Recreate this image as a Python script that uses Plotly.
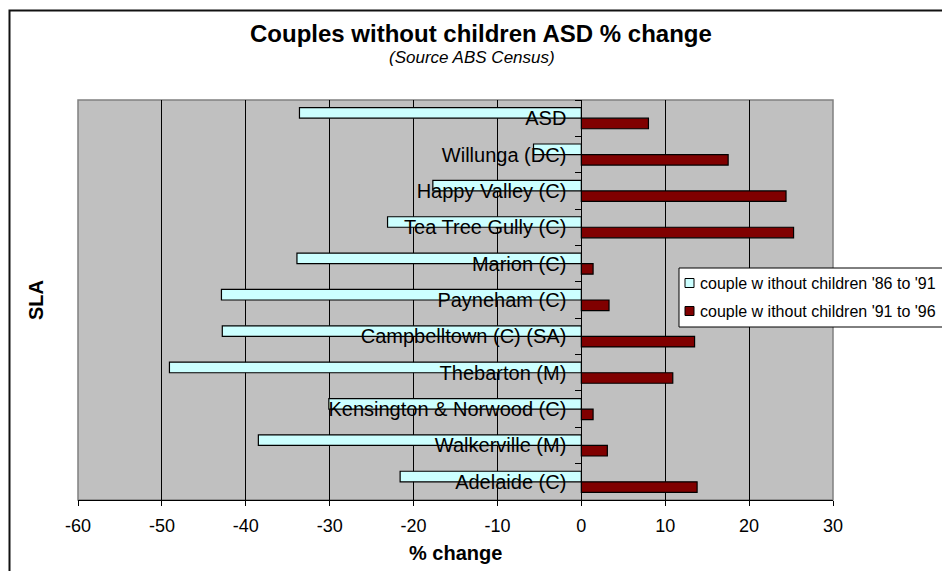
import plotly.graph_objects as go

# Statistical Local Areas, listed top to bottom
categories = [
    "ASD",
    "Willunga (DC)",
    "Happy Valley (C)",
    "Tea Tree Gully (C)",
    "Marion (C)",
    "Payneham (C)",
    "Campbelltown (C) (SA)",
    "Thebarton (M)",
    "Kensington & Norwood (C)",
    "Walkerville (M)",
    "Adelaide (C)",
]

# % change in couples without children
change_86_91 = [-33.6, -5.7, -17.7, -23.1, -33.9, -42.9, -42.8, -49.1, -30.1, -38.5, -21.6]
change_91_96 = [8.0, 17.5, 24.4, 25.3, 1.4, 3.3, 13.5, 10.9, 1.4, 3.1, 13.8]

series_names = [
    "couple w ithout children '86 to '91",
    "couple w ithout children '91 to '96",
]
series_colors = ["#CCFFFF", "#800000"]

x_ticks = [-60, -50, -40, -30, -20, -10, 0, 10, 20, 30]

FONT = "Liberation Sans, Arial, sans-serif"

W, H = 942, 571
ML, MR, MT, MB = 78, 109, 100, 71
PW, PH = W - ML - MR, H - MT - MB


def px_x(px):
    return (px - ML) / PW


def px_y(py):
    return (H - MB - py) / PH


fig = go.Figure()
for vals, name, color in zip([change_86_91, change_91_96], series_names, series_colors):
    fig.add_trace(go.Bar(
        y=categories, x=vals, orientation="h", name=name,
        marker=dict(color=color, line=dict(color="#000000", width=1.2)),
    ))

# legend box drawn as shapes and text, keyed to the series colours
legend_shapes = [
    dict(type="rect", xref="paper", yref="paper",
         x0=px_x(679), x1=px_x(W + 30), y0=px_y(327), y1=px_y(268),
         fillcolor="white", line=dict(color="black", width=1), layer="above"),
]
legend_notes = []
for i, (name, color) in enumerate(zip(series_names, series_colors)):
    cy = 283 + i * 28
    legend_shapes.append(dict(
        type="rect", xref="paper", yref="paper",
        x0=px_x(685), x1=px_x(694), y0=px_y(cy + 4.5), y1=px_y(cy - 4.5),
        fillcolor=color, line=dict(color="black", width=1), layer="above",
    ))
    legend_notes.append(dict(
        text=name, xref="paper", yref="paper", x=px_x(698), y=px_y(cy),
        xanchor="left", yanchor="middle", showarrow=False,
        font=dict(family=FONT, size=16, color="black"),
    ))

fig.update_layout(
    width=W, height=H,
    margin=dict(l=ML, r=MR, t=MT, b=MB, autoexpand=False),
    paper_bgcolor="white",
    plot_bgcolor="#C0C0C0",
    barmode="group", bargap=0.42, bargroupgap=0,
    font=dict(family=FONT, color="black"),
    showlegend=False,
    xaxis=dict(
        range=[x_ticks[0], x_ticks[-1]],
        tickmode="array", tickvals=x_ticks, ticktext=[str(v) for v in x_ticks],
        showgrid=True, gridcolor="black", gridwidth=1,
        zeroline=True, zerolinecolor="black", zerolinewidth=1,
        showline=True, linecolor="black", linewidth=1,
        ticks="outside", ticklen=5, tickcolor="black",
        tickfont=dict(family=FONT, size=18, color="black"),
        ticklabelstandoff=4,
    ),
    yaxis=dict(
        type="category", autorange="reversed",
        anchor="free", position=(0 - x_ticks[0]) / (x_ticks[-1] - x_ticks[0]),
        showgrid=False, zeroline=False,
        showline=True, linecolor="black", linewidth=1,
        ticks="outside", ticklen=6, tickcolor="black", tickson="boundaries",
        tickfont=dict(family=FONT, size=20, color="black"),
        ticklabelstandoff=11,
    ),
    shapes=[
        # plot area frame
        dict(type="rect", xref="paper", yref="paper", x0=0, x1=1, y0=0, y1=1,
             line=dict(color="#808080", width=1.5), layer="below"),
        # outer chart frame
        dict(type="rect", xref="paper", yref="paper",
             x0=px_x(9.5), x1=px_x(W + 20), y0=px_y(H + 20), y1=px_y(10.5),
             line=dict(color="#111111", width=2)),
    ] + legend_shapes,
    annotations=[
        dict(text="<b>Couples without children ASD % change</b>",
             xref="paper", yref="paper", x=px_x(481), y=px_y(34),
             xanchor="center", yanchor="middle",
             showarrow=False, font=dict(family=FONT, size=24, color="black")),
        dict(text="<i>(Source ABS Census)</i>",
             xref="paper", yref="paper", x=px_x(472), y=px_y(57),
             xanchor="center", yanchor="middle",
             showarrow=False, font=dict(family=FONT, size=17, color="black")),
        dict(text="<b>SLA</b>", textangle=-90,
             xref="paper", yref="paper", x=px_x(36), y=0.5,
             xanchor="center", yanchor="middle",
             showarrow=False, font=dict(family=FONT, size=20, color="black")),
        dict(text="<b>% change</b>",
             xref="paper", yref="paper", x=0.5, y=px_y(553),
             xanchor="center", yanchor="middle",
             showarrow=False, font=dict(family=FONT, size=20, color="black")),
    ] + legend_notes,
)

fig.write_html("out.html")
